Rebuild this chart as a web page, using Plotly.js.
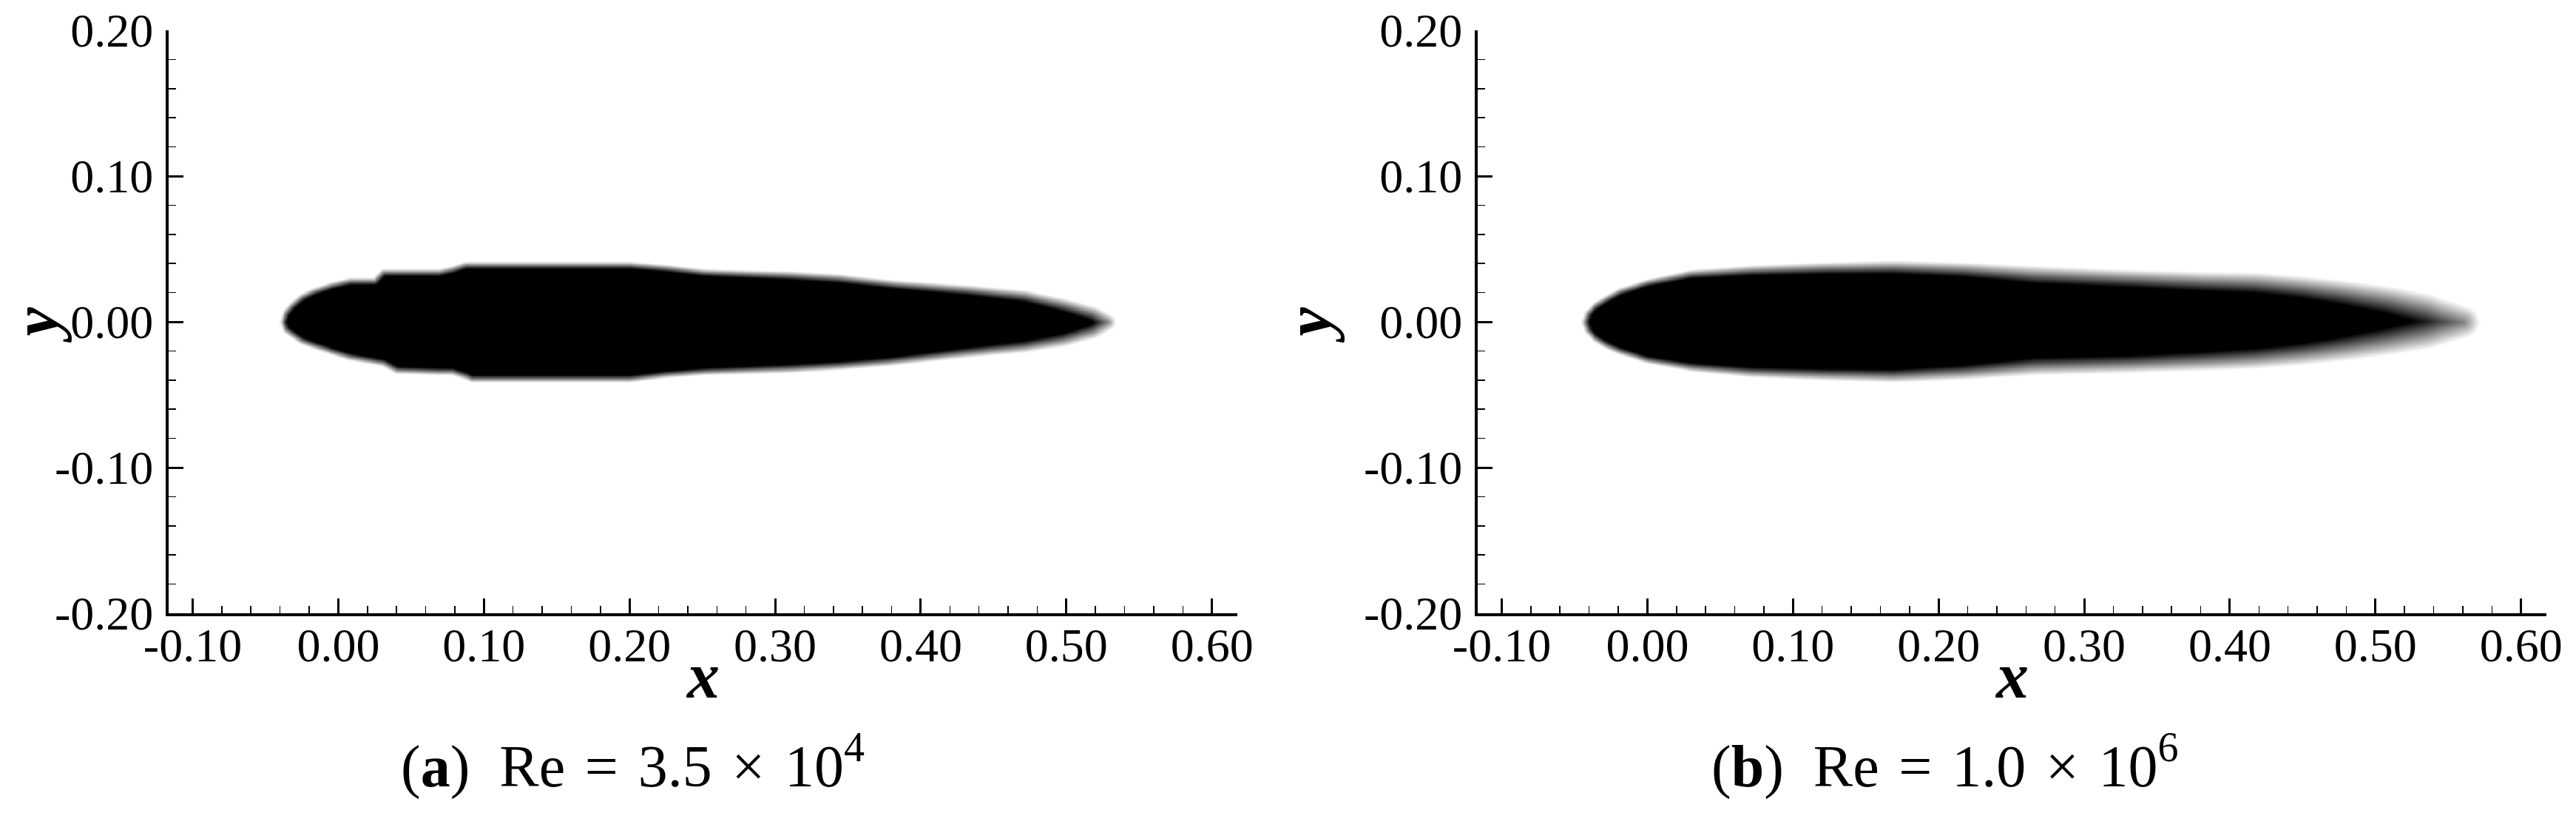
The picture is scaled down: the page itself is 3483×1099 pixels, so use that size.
<!DOCTYPE html>
<html><head><meta charset="utf-8">
<script src="https://cdn.plot.ly/plotly-3.0.1.min.js"></script>
<style>html,body{margin:0;padding:0;background:#fff;}#chart{width:3483px;height:1099px;}</style>
</head><body><div id="chart"></div>
<script>
// ---------- data ----------
const xTickVals = [-0.1, 0.0, 0.1, 0.2, 0.3, 0.4, 0.5, 0.6];
const xTickText = ['-0.10', '0.00', '0.10', '0.20', '0.30', '0.40', '0.50', '0.60'];
const yTickVals = [-0.2, -0.1, 0.0, 0.1, 0.2];
const yTickText = ['-0.20', '-0.10', '0.00', '0.10', '0.20'];

// panel (a) Re = 3.5e4 : outline of the dark region (x stations, upper / lower edge, edge softness)
const aX     = [-0.038, -0.036, -0.032, -0.025, -0.017, -0.005, 0.008, 0.025, 0.031, 0.040, 0.069, 0.078, 0.087, 0.092, 0.200, 0.225, 0.251, 0.310, 0.344, 0.380, 0.432, 0.471, 0.497, 0.518, 0.528];
const aUpper = [0.000, 0.006, 0.011, 0.017, 0.021, 0.025, 0.028, 0.028, 0.034, 0.034, 0.034, 0.036, 0.039, 0.039, 0.039, 0.037, 0.034, 0.032, 0.030, 0.026, 0.022, 0.018, 0.012, 0.006, 0.000];
const aLower = [0.000, -0.005, -0.008, -0.013, -0.016, -0.020, -0.024, -0.027, -0.028, -0.033, -0.034, -0.034, -0.037, -0.039, -0.039, -0.036, -0.034, -0.032, -0.030, -0.027, -0.021, -0.017, -0.0125, -0.0065, 0.000];
const aSoft  = [0.005, 0.005, 0.005, 0.005, 0.005, 0.005, 0.005, 0.005, 0.005, 0.005, 0.005, 0.005, 0.005, 0.005, 0.005, 0.005, 0.005, 0.006, 0.006, 0.006, 0.007, 0.008, 0.009, 0.010, 0.011];

// panel (b) Re = 1.0e6
const bX     = [-0.043, -0.041, -0.036, -0.028, -0.019, 0.000, 0.030, 0.072, 0.120, 0.169, 0.218, 0.266, 0.330, 0.380, 0.418, 0.450, 0.480, 0.510, 0.535, 0.560];
const bUpper = [0.000, 0.006, 0.011, 0.016, 0.021, 0.027, 0.033, 0.0355, 0.037, 0.0377, 0.036, 0.0326, 0.030, 0.028, 0.027, 0.024, 0.020, 0.015, 0.009, 0.000];
const bLower = [0.000, -0.006, -0.011, -0.016, -0.020, -0.026, -0.031, -0.0345, -0.036, -0.037, -0.0345, -0.0305, -0.029, -0.027, -0.025, -0.022, -0.018, -0.013, -0.008, 0.000];
const bSoft  = [0.005, 0.005, 0.005, 0.005, 0.005, 0.005, 0.006, 0.007, 0.008, 0.009, 0.010, 0.012, 0.012, 0.013, 0.014, 0.015, 0.017, 0.019, 0.021, 0.022];

const captionA = '(<b>a</b>)\u2002Re\u2004=\u20043.5\u2004\u00d7\u200410<sup>4</sup>';
const captionB = '(<b>b</b>)\u2002Re\u2004=\u20041.0\u2004\u00d7\u200410<sup>6</sup>';
const xTitle = '<b><i>x</i></b>';
const yTitle = '<b><i>y</i></b>';

// ---------- build a shaded field from an outline ----------
function interp(xs, vs, x) {
  if (x <= xs[0]) return vs[0];
  if (x >= xs[xs.length - 1]) return vs[vs.length - 1];
  for (let i = 1; i < xs.length; i++) {
    if (x <= xs[i]) { const t = (x - xs[i - 1]) / (xs[i] - xs[i - 1]); return vs[i - 1] + t * (vs[i] - vs[i - 1]); }
  }
  return vs[vs.length - 1];
}
function buildField(xs, up, lo, soft) {
  const poly = [];
  for (let i = 0; i < xs.length; i++) poly.push([xs[i], up[i]]);
  for (let i = xs.length - 2; i >= 1; i--) poly.push([xs[i], lo[i]]);
  const gx = [], gy = [];
  for (let x = -0.07; x <= 0.62; x += 0.0015) gx.push(+x.toFixed(5));
  for (let y = -0.075; y <= 0.0751; y += 0.0008) gy.push(+y.toFixed(5));
  const z = [];
  for (const y of gy) {
    const row = [];
    for (const x of gx) {
      let inside = false, dmin = 1e9;
      for (let i = 0, j = poly.length - 1; i < poly.length; j = i++) {
        const [xi, yi] = poly[i], [xj, yj] = poly[j];
        if ((yi > y) !== (yj > y) && x < (xj - xi) * (y - yi) / (yj - yi) + xi) inside = !inside;
        const dx = xi - xj, dy = yi - yj, L = dx * dx + dy * dy;
        let t = L > 0 ? ((x - xj) * dx + (y - yj) * dy) / L : 0;
        t = Math.max(0, Math.min(1, t));
        const px = xj + t * dx - x, py = yj + t * dy - y;
        const d = Math.sqrt(px * px + py * py);
        if (d < dmin) dmin = d;
      }
      const sd = inside ? dmin : -dmin;
      const s = interp(xs, soft, x);
      row.push(Math.max(0, Math.min(1, 0.5 + sd / s)));
    }
    z.push(row);
  }
  return {gx, gy, z};
}

const fa = buildField(aX, aUpper, aLower, aSoft);
const fb = buildField(bX, bUpper, bLower, bSoft);

const cs = [[0, 'rgb(255,255,255)'], [1, 'rgb(0,0,0)']];
const traces = [
  {type: 'heatmap', x: fa.gx, y: fa.gy, z: fa.z, zmin: 0, zmax: 1, colorscale: cs, showscale: false, zsmooth: 'best', hoverinfo: 'skip', xaxis: 'x', yaxis: 'y'},
  {type: 'heatmap', x: fb.gx, y: fb.gy, z: fb.z, zmin: 0, zmax: 1, colorscale: cs, showscale: false, zsmooth: 'best', hoverinfo: 'skip', xaxis: 'x2', yaxis: 'y2'}
];

// ---------- layout ----------
const W = 3483, H = 1099;
const serif = 'Liberation Serif, Times New Roman, serif';
const tickFont = {family: serif, size: 64, color: '#000'};
const titleFont = {family: serif, size: 88, color: '#000'};
const minor = {tickmode: 'linear', tick0: 0, dtick: 0.02, ticks: 'inside', ticklen: 10, tickwidth: 1.5, tickcolor: '#000', showgrid: false};
function xAxis(d0, d1, anchor) {
  return {domain: [d0 / W, d1 / W], anchor: anchor, range: [-0.1165, 0.6174], tickmode: 'array', tickvals: xTickVals, ticktext: xTickText,
    showline: true, linewidth: 4, linecolor: '#000', ticks: 'inside', ticklen: 20, tickwidth: 3, tickcolor: '#000',
    showgrid: false, zeroline: false, tickfont: tickFont, ticklabelstandoff: -16, minor: minor, fixedrange: true};
}
function yAxis(anchor, standoff) {
  return {domain: [1 - 829 / H, 1 - 41 / H], anchor: anchor, range: [-0.2, 0.2], tickmode: 'array', tickvals: yTickVals, ticktext: yTickText,
    showline: true, linewidth: 4, linecolor: '#000', ticks: 'inside', ticklen: 20, tickwidth: 3, tickcolor: '#000',
    showgrid: false, zeroline: false, tickfont: tickFont, ticklabelstandoff: 4, minor: minor, fixedrange: true,
    title: {text: yTitle, font: titleFont, standoff: standoff}};
}
function note(text, px, py, size) {
  return {text: text, xref: 'paper', yref: 'paper', x: px / W, y: 1 - py / H, xanchor: 'center', yanchor: 'middle', showarrow: false,
    font: {family: serif, size: size, color: '#000'}};
}
const layout = {
  width: W, height: H, margin: {l: 0, r: 0, t: 0, b: 0}, paper_bgcolor: '#fff', plot_bgcolor: '#fff', showlegend: false,
  xaxis: xAxis(228, 1673, 'y'), yaxis: yAxis('x', 50),
  xaxis2: xAxis(1998, 3443, 'y2'), yaxis2: yAxis('x2', 16),
  annotations: [
    note(xTitle, 950, 913, 88),
    note(xTitle, 2720, 913, 88),
    note(captionA, 855, 1030, 80),
    note(captionB, 2630, 1030, 80)
  ]
};
Plotly.newPlot('chart', traces, layout, {displayModeBar: false, staticPlot: true});
</script></body></html>
